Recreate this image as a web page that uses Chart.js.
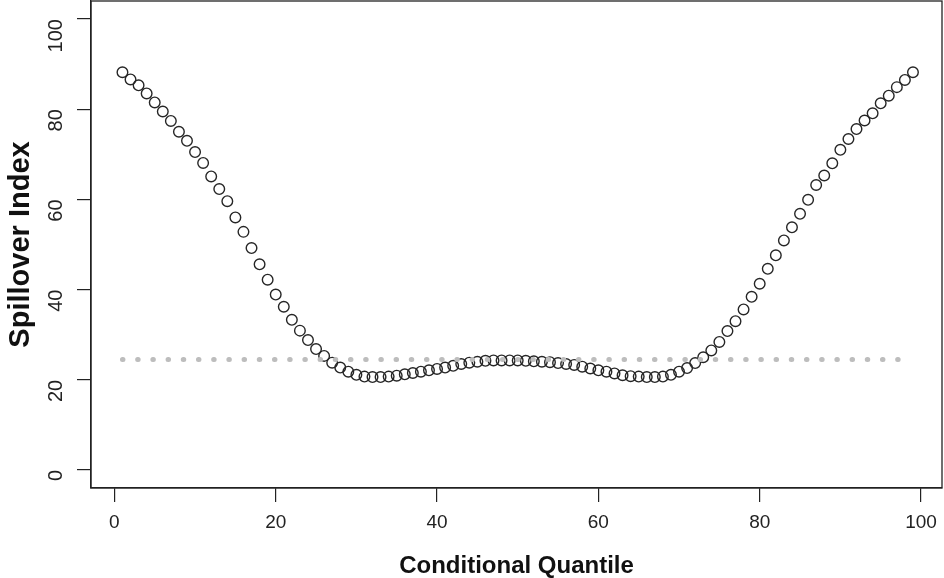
<!DOCTYPE html>
<html lang="en">
<head>
    <meta charset="UTF-8">
    <title>Spillover Index</title>
    <style>
        html, body { margin: 0; padding: 0; background: #fff; }
        canvas { display: block; }
    </style>
</head>
<body>
    <canvas id="myChart" width="944" height="578"></canvas>

    <script src="https://cdn.jsdelivr.net/npm/chart.js@4.4.1/dist/chart.umd.min.js"></script>
    <script>
        // quantile grid (1..99) and spillover values
        var quantiles = [];
        for (var q = 1; q <= 99; q++) quantiles.push(q);

        var spillover = [
            88.2, 86.6, 85.3, 83.5, 81.5, 79.5, 77.4, 75.0, 73.0, 70.5,
            68.1, 65.1, 62.3, 59.6, 56.0, 52.8, 49.2, 45.6, 42.2, 38.9,
            36.2, 33.3, 30.9, 28.8, 26.8, 25.3, 23.8, 22.7, 21.8, 21.1,
            20.7, 20.6, 20.6, 20.7, 20.9, 21.2, 21.5, 21.8, 22.1, 22.4,
            22.7, 23.1, 23.5, 23.8, 24.0, 24.2, 24.3, 24.3, 24.3, 24.3,
            24.2, 24.1, 24.0, 23.9, 23.7, 23.5, 23.3, 22.9, 22.5, 22.1,
            21.8, 21.4, 21.0, 20.8, 20.7, 20.6, 20.6, 20.7, 21.1, 21.8,
            22.6, 23.7, 25.0, 26.5, 28.4, 30.8, 33.0, 35.6, 38.4, 41.3,
            44.6, 47.6, 50.9, 53.8, 56.8, 59.9, 63.2, 65.3, 68.0, 71.0,
            73.4, 75.6, 77.5, 79.1, 81.3, 83.0, 84.9, 86.5, 88.2
        ];

        // dotted reference level
        var refLevel = 24.5;
        var refRange = [1, 97.6];

        var xTicks = [0, 20, 40, 60, 80, 100];
        var yTicks = [0, 20, 40, 60, 80, 100];

        var pointsData = quantiles.map(function (q, i) { return { x: q, y: spillover[i] }; });
        var refData = refRange.map(function (q) { return { x: q, y: refLevel }; });

        var font = "'Liberation Sans', Arial, Helvetica, sans-serif";

        // R-style box around the plot region
        var boxPlugin = {
            id: 'box',
            afterDraw: function (chart) {
                var a = chart.chartArea;
                var ctx = chart.ctx;
                ctx.save();
                ctx.strokeStyle = '#222';
                ctx.lineWidth = 1.3;
                ctx.strokeRect(a.left, a.top, a.right - a.left, a.bottom - a.top);
                ctx.restore();
            }
        };

        var ctx = document.getElementById("myChart").getContext("2d");
        var myChart = new Chart(ctx, {
            type: 'scatter',
            data: {
                datasets: [
                    {
                        data: refData,
                        showLine: true,
                        borderColor: '#bdbdbd',
                        borderWidth: 5,
                        borderCapStyle: 'round',
                        borderDash: [0.5, 14.7],
                        pointRadius: 0
                    },
                    {
                        data: pointsData,
                        showLine: false,
                        pointRadius: 5.3,
                        pointBorderWidth: 1.4,
                        pointBorderColor: '#262626',
                        pointBackgroundColor: 'rgba(0,0,0,0)'
                    }
                ]
            },
            options: {
                responsive: false,
                animation: false,
                layout: {
                    autoPadding: false,
                    padding: { top: 1, right: 2, left: 0, bottom: 0 }
                },
                plugins: {
                    legend: { display: false },
                    tooltip: { enabled: false }
                },
                scales: {
                    x: {
                        type: 'linear',
                        min: -2.9,
                        max: 102.6,
                        afterFit: function (scale) {
                            scale.height = 90;
                            scale.paddingLeft = 0;
                            scale.paddingRight = 0;
                        },
                        afterBuildTicks: function (scale) {
                            scale.ticks = xTicks.map(function (v) { return { value: v }; });
                        },
                        grid: {
                            drawOnChartArea: false,
                            drawTicks: true,
                            tickLength: 14,
                            color: '#222',
                            lineWidth: 1.2
                        },
                        border: { display: true, color: '#222', width: 1.3 },
                        ticks: {
                            padding: 9,
                            color: '#222',
                            maxRotation: 0,
                            font: { family: font, size: 19 }
                        },
                        title: {
                            display: true,
                            text: 'Conditional Quantile',
                            color: '#111',
                            padding: { top: 0, bottom: -3 },
                            font: { family: font, size: 24, weight: 'bold' }
                        }
                    },
                    y: {
                        type: 'linear',
                        min: -4,
                        max: 104,
                        afterFit: function (scale) {
                            scale.width = 91;
                            scale.paddingTop = 0;
                            scale.paddingBottom = 0;
                        },
                        afterBuildTicks: function (scale) {
                            scale.ticks = yTicks.map(function (v) { return { value: v }; });
                        },
                        grid: {
                            drawOnChartArea: false,
                            drawTicks: true,
                            tickLength: 14,
                            color: '#222',
                            lineWidth: 1.2
                        },
                        border: { display: true, color: '#222', width: 1.3 },
                        ticks: {
                            padding: 21,
                            color: '#222',
                            minRotation: 90,
                            maxRotation: 90,
                            font: { family: font, size: 20 }
                        },
                        title: {
                            display: true,
                            text: 'Spillover Index',
                            color: '#111',
                            padding: { top: 4, bottom: 0 },
                            font: { family: font, size: 29, weight: 'bold' }
                        }
                    }
                }
            },
            plugins: [boxPlugin]
        });
    </script>
</body>
</html>
